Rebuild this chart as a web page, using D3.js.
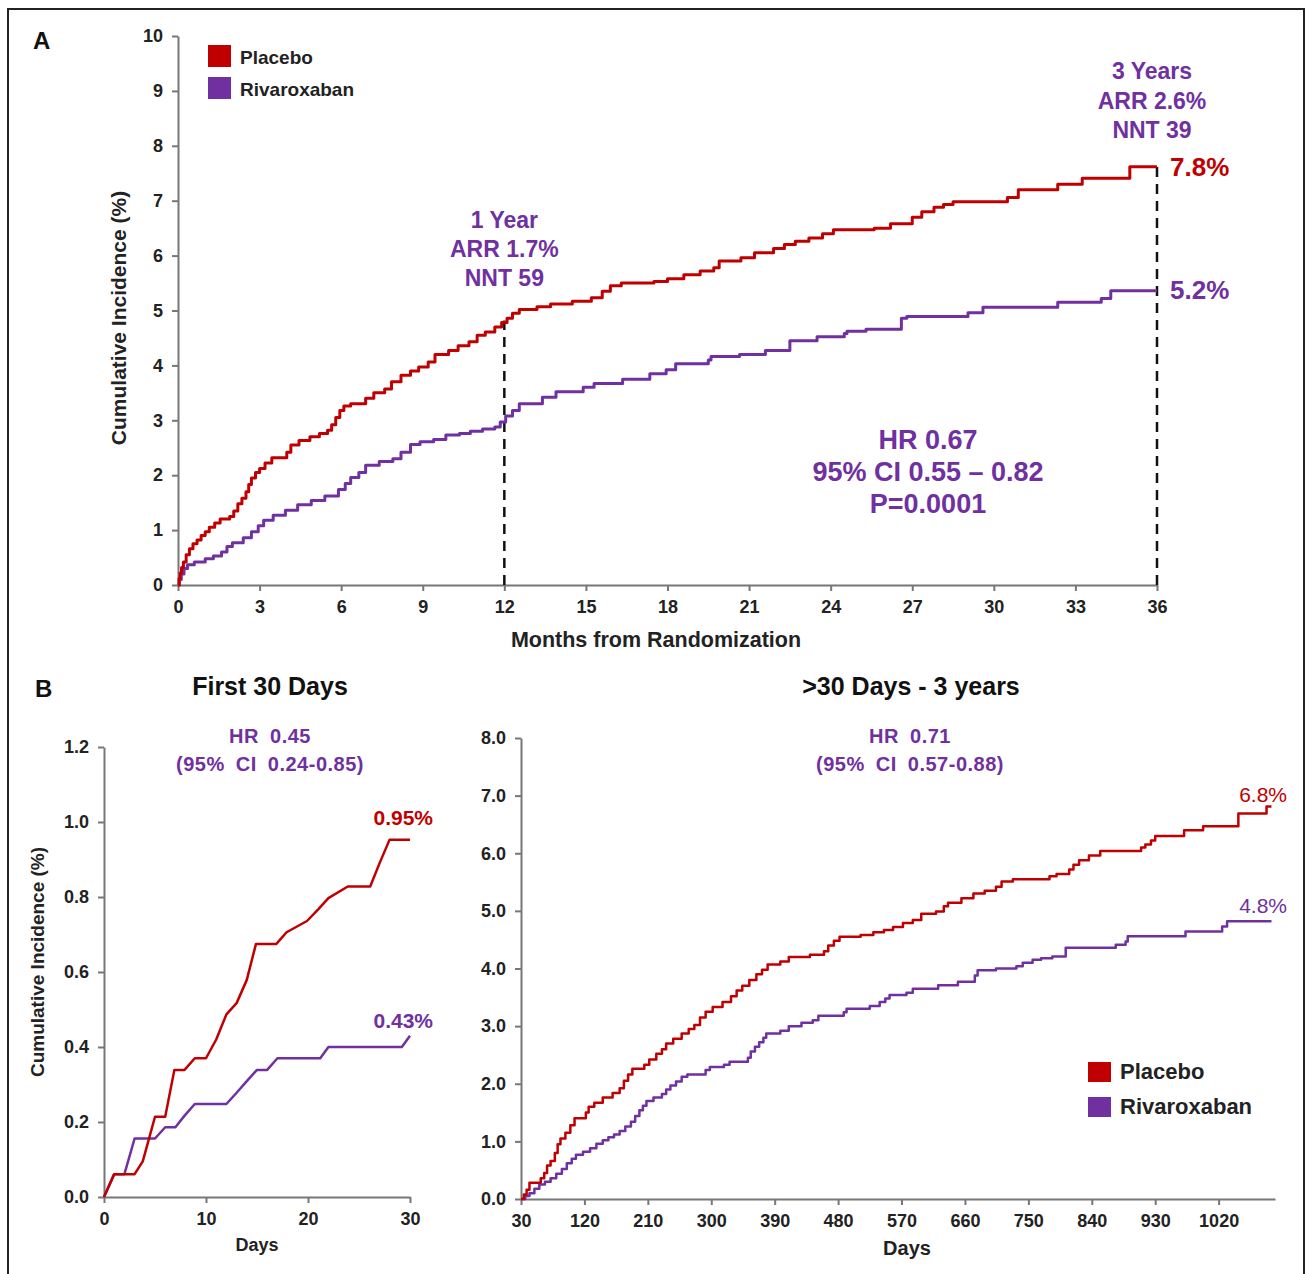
<!DOCTYPE html>
<html>
<head>
<meta charset="utf-8">
<script src="https://cdn.jsdelivr.net/npm/d3@7"></script>
<style>
  body { margin: 0; background: #fff; }
  svg { font-family: 'Liberation Sans', Arial, sans-serif; }
  .axis path, .axis line { stroke: #777; stroke-width: 2; }
  .axis text { font-size: 18px; font-weight: bold; fill: #222; font-family: 'Liberation Sans', Arial, sans-serif; }
</style>
</head>
<body>
<svg width="1306" height="1274"></svg>
<script>
// ---- Data ----

// Panel A: months, cumulative incidence (%) -- step points
let placeboA = [
  [0, 0], [0.04, 0.12], [0.08, 0.22], [0.13, 0.32], [0.2, 0.42], [0.3, 0.55], [0.42, 0.66], [0.55, 0.75],
  [0.7, 0.82], [0.85, 0.9], [1.0, 0.97], [1.15, 1.05], [1.35, 1.13], [1.55, 1.2], [1.9, 1.25], [2.05, 1.35],
  [2.2, 1.48], [2.35, 1.58], [2.5, 1.7], [2.6, 1.83], [2.7, 1.95], [2.85, 2.05], [3.0, 2.12], [3.2, 2.22],
  [3.45, 2.32], [4.0, 2.42], [4.15, 2.55], [4.45, 2.63], [4.85, 2.7], [5.2, 2.76], [5.5, 2.82], [5.65, 2.92],
  [5.8, 3.05], [5.95, 3.18], [6.1, 3.26], [6.35, 3.3], [6.9, 3.4], [7.2, 3.5], [7.6, 3.57], [7.85, 3.7],
  [8.2, 3.82], [8.55, 3.9], [8.85, 3.97], [9.2, 4.06], [9.45, 4.2], [9.95, 4.27], [10.3, 4.36], [10.7, 4.43],
  [11.0, 4.55], [11.3, 4.61], [11.65, 4.7], [11.9, 4.78], [12.1, 4.86], [12.3, 4.95], [12.55, 5.02],
  [13.2, 5.07], [13.7, 5.12], [14.5, 5.17], [15.2, 5.23], [15.6, 5.35], [15.9, 5.45], [16.3, 5.5],
  [17.5, 5.53], [18.0, 5.58], [18.6, 5.65], [19.2, 5.72], [19.7, 5.78], [19.9, 5.9], [20.7, 5.96],
  [21.2, 6.05], [21.9, 6.13], [22.3, 6.2], [22.7, 6.26], [23.2, 6.32], [23.7, 6.4], [24.1, 6.47],
  [25.6, 6.5], [26.2, 6.58], [27.0, 6.7], [27.35, 6.8], [27.8, 6.88], [28.15, 6.93], [28.5, 6.98],
  [30.5, 7.06], [30.9, 7.2], [32.35, 7.3], [33.25, 7.41], [35.0, 7.62], [36, 7.62]
];
let rivaroxabanA = [
  [0, 0], [0.05, 0.1], [0.12, 0.2], [0.22, 0.3], [0.35, 0.37], [0.6, 0.42], [1.0, 0.48], [1.3, 0.53],
  [1.6, 0.6], [1.8, 0.7], [2.0, 0.77], [2.4, 0.86], [2.7, 0.97], [2.95, 1.08], [3.15, 1.18], [3.5, 1.27],
  [3.95, 1.36], [4.4, 1.46], [4.9, 1.54], [5.4, 1.62], [5.9, 1.74], [6.15, 1.85], [6.35, 1.96], [6.65, 2.05],
  [6.9, 2.18], [7.4, 2.25], [7.9, 2.3], [8.2, 2.42], [8.55, 2.56], [8.9, 2.61], [9.4, 2.65], [9.85, 2.73],
  [10.35, 2.76], [10.75, 2.8], [11.2, 2.84], [11.65, 2.88], [11.85, 2.97], [12.05, 3.08], [12.3, 3.18],
  [12.55, 3.3], [13.4, 3.42], [13.9, 3.52], [14.9, 3.6], [15.3, 3.67], [16.35, 3.75], [17.35, 3.85],
  [17.95, 3.92], [18.3, 4.03], [19.5, 4.1], [19.6, 4.16], [20.65, 4.2], [21.6, 4.27], [22.5, 4.45],
  [23.5, 4.52], [24.5, 4.58], [24.6, 4.62], [25.3, 4.66], [26.6, 4.86], [26.8, 4.89], [29.05, 4.96],
  [29.6, 5.06], [32.35, 5.15], [33.95, 5.22], [34.3, 5.36], [36, 5.36]
];
let monthTicks = [0, 3, 6, 9, 12, 15, 18, 21, 24, 27, 30, 33, 36];
let incidenceTicksA = [0, 1, 2, 3, 4, 5, 6, 7, 8, 9, 10];

// Panel B left: days 0-30
let placebo30 = [
  [0, 0], [1, 0.061], [3, 0.061], [3.8, 0.095], [5, 0.214], [6, 0.214], [6.9, 0.339], [7.9, 0.339],
  [8.9, 0.37], [10, 0.37], [11, 0.42], [12, 0.487], [13, 0.517], [14, 0.579], [14.9, 0.675], [16.9, 0.675],
  [17.9, 0.706], [19.9, 0.736], [21, 0.767], [22, 0.797], [23.9, 0.828], [26.1, 0.828], [27, 0.889],
  [28, 0.953], [30, 0.953]
];
let rivaroxaban30 = [
  [0, 0], [1, 0.061], [2, 0.061], [3, 0.156], [5, 0.156], [6, 0.186], [7, 0.186], [7.9, 0.217],
  [8.9, 0.248], [12, 0.248], [13, 0.278], [14, 0.309], [15, 0.339], [16, 0.339], [17, 0.37], [21.2, 0.37],
  [22, 0.4], [29.2, 0.4], [30, 0.43]
];
let dayTicks30 = [0, 10, 20, 30];
let incidenceTicks30 = [0, 0.2, 0.4, 0.6, 0.8, 1.0, 1.2];

// Panel B right: days 30 - 3 years (step points)
let placeboLate = [
  [30, 0], [34, 0.08], [38, 0.16], [42, 0.28], [58, 0.36], [63, 0.45], [67, 0.58], [72, 0.66], [78, 0.8],
  [82, 0.95], [86, 1.05], [93, 1.15], [100, 1.28], [106, 1.4], [122, 1.5], [126, 1.6], [134, 1.67],
  [146, 1.76], [160, 1.84], [170, 1.92], [176, 2.05], [182, 2.16], [188, 2.26], [205, 2.33], [212, 2.42],
  [222, 2.52], [230, 2.6], [236, 2.7], [246, 2.78], [258, 2.87], [268, 2.95], [276, 3.02], [284, 3.15],
  [292, 3.25], [302, 3.33], [316, 3.42], [328, 3.52], [336, 3.62], [344, 3.7], [354, 3.8], [364, 3.9],
  [372, 3.98], [380, 4.07], [398, 4.12], [410, 4.2], [440, 4.24], [460, 4.3], [466, 4.4], [474, 4.48],
  [482, 4.55], [512, 4.58], [530, 4.63], [545, 4.67], [558, 4.72], [572, 4.79], [586, 4.84], [598, 4.95],
  [619, 4.99], [630, 5.08], [636, 5.14], [655, 5.22], [672, 5.3], [688, 5.35], [704, 5.42], [712, 5.51],
  [728, 5.55], [780, 5.6], [790, 5.64], [808, 5.72], [814, 5.8], [822, 5.88], [836, 5.96], [852, 6.04],
  [910, 6.1], [916, 6.15], [924, 6.22], [930, 6.3], [971, 6.4], [998, 6.47], [1048, 6.69], [1088, 6.81],
  [1095, 6.81]
];
let rivaroxabanLate = [
  [30, 0], [36, 0.05], [42, 0.1], [49, 0.18], [56, 0.25], [64, 0.3], [72, 0.36], [80, 0.44], [88, 0.52],
  [95, 0.62], [102, 0.7], [108, 0.77], [118, 0.82], [128, 0.88], [137, 0.96], [146, 1.02], [154, 1.07],
  [162, 1.12], [170, 1.18], [178, 1.26], [186, 1.34], [192, 1.44], [198, 1.54], [203, 1.62], [208, 1.7],
  [218, 1.76], [230, 1.82], [236, 1.9], [242, 1.97], [250, 2.04], [258, 2.12], [266, 2.16], [292, 2.24],
  [298, 2.29], [318, 2.33], [326, 2.38], [352, 2.45], [356, 2.56], [362, 2.64], [368, 2.72], [374, 2.8],
  [378, 2.87], [398, 2.92], [410, 3.0], [428, 3.06], [444, 3.1], [452, 3.18], [488, 3.24], [492, 3.3],
  [525, 3.35], [539, 3.42], [547, 3.48], [553, 3.54], [577, 3.58], [586, 3.65], [622, 3.71], [650, 3.77],
  [674, 3.88], [678, 3.97], [704, 4.0], [733, 4.04], [742, 4.1], [756, 4.15], [768, 4.18], [784, 4.21],
  [803, 4.36], [874, 4.41], [888, 4.47], [891, 4.56], [973, 4.64], [1025, 4.73], [1032, 4.82], [1095, 4.82]
];
let dayTicksLate = [30, 120, 210, 300, 390, 480, 570, 660, 750, 840, 930, 1020];
let incidenceTicksLate = [0, 1, 2, 3, 4, 5, 6, 7, 8];

let seriesNames = ['Placebo', 'Rivaroxaban'];
let red = '#c00000';
let purple = '#7030a0';
let colors = [red, purple];

// ---- Drawing ----
let svg = d3.select('svg');

// outer frame
svg.append('rect')
  .attr('x', 8).attr('y', 9)
  .attr('width', 1296).attr('height', 1270)
  .attr('fill', 'none')
  .attr('stroke', '#222')
  .attr('stroke-width', 2);

/**
 * Draw both axes of a panel
 */
function drawAxes(x, y, xTicks, yTicks, xFormat, yFormat) {
  let [x0] = x.range();
  let [y0] = y.range();
  svg.append('g')
    .attr('class', 'axis')
    .attr('transform', 'translate(0, ' + y0 + ')')
    .call(d3.axisBottom(x).tickValues(xTicks).tickSize(6).tickSizeOuter(0).tickPadding(9).tickFormat(xFormat));
  svg.append('g')
    .attr('class', 'axis')
    .attr('transform', 'translate(' + x0 + ', 0)')
    .call(d3.axisLeft(y).tickValues(yTicks).tickSize(6).tickSizeOuter(0).tickPadding(9).tickFormat(yFormat));
}

function drawLine(x, y, data, color, curve, width) {
  let line = d3.line()
    .x(d => x(d[0]))
    .y(d => y(d[1]))
    .curve(curve);
  svg.append('path')
    .datum(data)
    .attr('d', line)
    .attr('fill', 'none')
    .attr('stroke', color)
    .attr('stroke-width', width)
    .attr('stroke-linejoin', 'round');
}

function addText(x, y, str, size, color, opts = {}) {
  return svg.append('text')
    .attr('x', x)
    .attr('y', y)
    .attr('text-anchor', opts.anchor || 'middle')
    .attr('font-size', size + 'px')
    .attr('font-weight', opts.weight || 'bold')
    .attr('fill', color)
    .attr('transform', opts.rotate ? 'rotate(-90, ' + x + ', ' + y + ')' : null)
    .style('word-spacing', opts.wordSpacing || null)
    .style('letter-spacing', opts.letterSpacing || null)
    .text(str);
}

function addLegend(x0, y0, gap, size, boxW, boxH) {
  seriesNames.forEach((name, i) => {
    svg.append('rect')
      .attr('x', x0).attr('y', y0 + i * gap)
      .attr('width', boxW).attr('height', boxH)
      .attr('fill', colors[i]);
    addText(x0 + boxW + 9, y0 + i * gap + boxH - 3, name, size, '#222', { anchor: 'start' });
  });
}

// Panel A
let xA = d3.scaleLinear().domain([0, 36]).range([178, 1157]);
let yA = d3.scaleLinear().domain([0, 10]).range([585, 36]);
drawAxes(xA, yA, monthTicks, incidenceTicksA, d3.format('d'), d3.format('d'));

// dashed reference lines at 1 and 3 years
[[12, 4.82], [36, 7.62]].forEach(([m, v]) => {
  svg.append('line')
    .attr('x1', xA(m)).attr('x2', xA(m))
    .attr('y1', yA(0)).attr('y2', yA(v))
    .attr('stroke', '#111')
    .attr('stroke-width', 2.5)
    .attr('stroke-dasharray', '10,7');
});

drawLine(xA, yA, rivaroxabanA, purple, d3.curveStepAfter, 3);
drawLine(xA, yA, placeboA, red, d3.curveStepAfter, 3);

addText(33, 49, 'A', 24, '#111', { anchor: 'start' });
addLegend(208, 45, 32, 19, 23, 22);
addText(656, 647, 'Months from Randomization', 21.5, '#222');
addText(126, 318, 'Cumulative Incidence (%)', 21, '#222', { rotate: true });

['1 Year', 'ARR 1.7%', 'NNT 59'].forEach((s, i) => addText(xA(12), 228 + i * 29, s, 23, purple));
['3 Years', 'ARR 2.6%', 'NNT 39'].forEach((s, i) => addText(1152, 79 + i * 29.5, s, 23, purple));
addText(1170, 176, '7.8%', 26, red, { anchor: 'start' });
addText(1170, 299, '5.2%', 26, purple, { anchor: 'start' });
['HR 0.67', '95% CI 0.55 \u2013 0.82', 'P=0.0001'].forEach((s, i) => addText(928, 449 + i * 32, s, 27, purple));

// Panel B left
let xB1 = d3.scaleLinear().domain([0, 30]).range([104, 410]);
let yB1 = d3.scaleLinear().domain([0, 1.2]).range([1197, 747]);
drawAxes(xB1, yB1, dayTicks30, incidenceTicks30, d3.format('d'), d3.format('.1f'));
drawLine(xB1, yB1, rivaroxaban30, purple, d3.curveLinear, 2.5);
drawLine(xB1, yB1, placebo30, red, d3.curveLinear, 2.5);

addText(35, 697, 'B', 24, '#111', { anchor: 'start' });
addText(270, 695, 'First 30 Days', 25, '#111');
addText(270, 743, 'HR 0.45', 20, purple, { wordSpacing: '5px', letterSpacing: '0.5px' });
addText(270, 771, '(95% CI 0.24-0.85)', 20, purple, { wordSpacing: '5px', letterSpacing: '0.5px' });
addText(433, 825, '0.95%', 21, red, { anchor: 'end' });
addText(433, 1028, '0.43%', 21, purple, { anchor: 'end' });
addText(257, 1251, 'Days', 18, '#222');
addText(44, 962, 'Cumulative Incidence (%)', 19, '#222', { rotate: true });

// Panel B right
let xB2 = d3.scaleLinear().domain([30, 1100]).range([521, 1275]);
let yB2 = d3.scaleLinear().domain([0, 8]).range([1199, 738]);
drawAxes(xB2, yB2, dayTicksLate, incidenceTicksLate, d3.format('d'), d3.format('.1f'));
drawLine(xB2, yB2, rivaroxabanLate, purple, d3.curveStepAfter, 2.5);
drawLine(xB2, yB2, placeboLate, red, d3.curveStepAfter, 2.5);

addText(911, 695, '>30 Days - 3 years', 25, '#111');
addText(910, 743, 'HR 0.71', 20, purple, { wordSpacing: '5px', letterSpacing: '0.5px' });
addText(910, 771, '(95% CI 0.57-0.88)', 20, purple, { wordSpacing: '5px', letterSpacing: '0.5px' });
addText(1287, 802, '6.8%', 21, red, { anchor: 'end', weight: 'normal' });
addText(1287, 913, '4.8%', 21, purple, { anchor: 'end', weight: 'normal' });
addText(907, 1255, 'Days', 20, '#222');
addLegend(1088, 1062, 35, 22, 23, 20);
</script>
</body>
</html>
